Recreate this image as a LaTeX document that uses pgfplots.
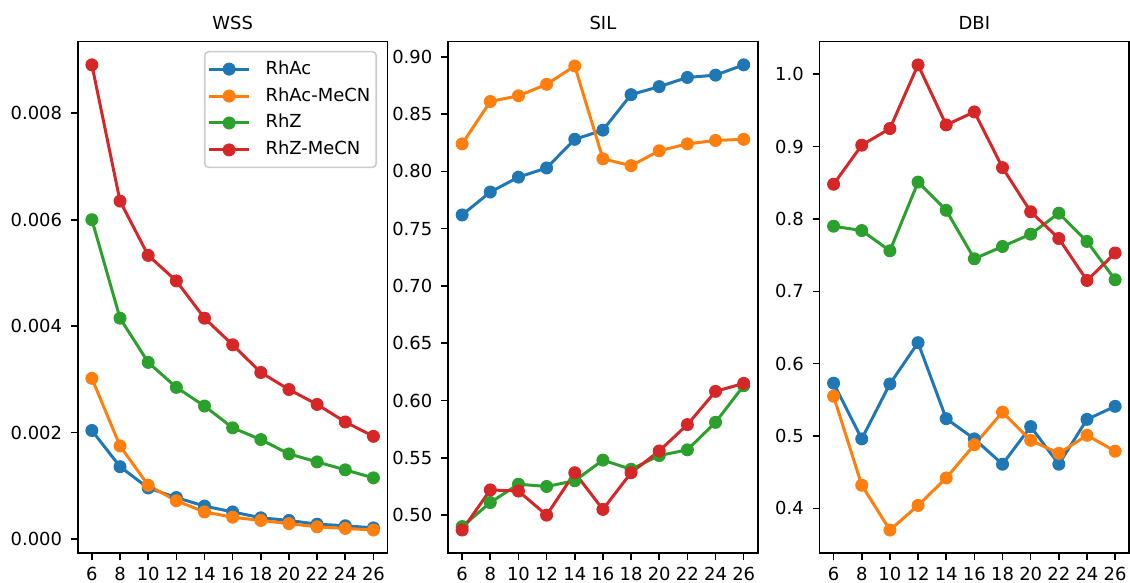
\documentclass[border=0pt]{standalone}
\usepackage{pgfplots}
\pgfplotsset{compat=1.18}
\usepackage{pgfplotstable}
\usepackage{fontspec}
\setmainfont{DejaVu Sans}

\definecolor{cA}{HTML}{1F77B4}
\definecolor{cB}{HTML}{FF7F0E}
\definecolor{cC}{HTML}{2CA02C}
\definecolor{cD}{HTML}{D62728}

% n: cluster count; one column per system
\pgfplotstableread{
n  RhAc    RhAcMeCN RhZ     RhZMeCN
6  0.00204 0.00302  0.00600 0.00891
8  0.00136 0.00175  0.00415 0.00635
10 0.00096 0.00101  0.00332 0.00533
12 0.00078 0.00072  0.00285 0.00485
14 0.00062 0.00051  0.00250 0.00415
16 0.00051 0.00041  0.00209 0.00365
18 0.00040 0.00035  0.00187 0.00313
20 0.00035 0.00029  0.00160 0.00281
22 0.00028 0.00023  0.00145 0.00253
24 0.00025 0.00020  0.00130 0.00220
26 0.00021 0.00017  0.00115 0.00193
}\wss

\pgfplotstableread{
n  RhAc  RhAcMeCN RhZ   RhZMeCN
6  0.762 0.824    0.490 0.487
8  0.782 0.861    0.511 0.522
10 0.795 0.866    0.527 0.521
12 0.803 0.876    0.525 0.500
14 0.828 0.892    0.530 0.537
16 0.836 0.811    0.548 0.505
18 0.867 0.805    0.540 0.537
20 0.874 0.818    0.552 0.556
22 0.882 0.824    0.557 0.579
24 0.884 0.827    0.581 0.608
26 0.893 0.828    0.613 0.615
}\sil

\pgfplotstableread{
n  RhAc  RhAcMeCN RhZ   RhZMeCN
6  0.573 0.555    0.790 0.848
8  0.496 0.432    0.784 0.902
10 0.572 0.370    0.756 0.925
12 0.629 0.404    0.851 1.013
14 0.524 0.442    0.812 0.930
16 0.496 0.488    0.745 0.948
18 0.461 0.533    0.762 0.871
20 0.513 0.494    0.779 0.810
22 0.461 0.476    0.808 0.773
24 0.523 0.501    0.769 0.715
26 0.541 0.479    0.716 0.753
}\dbi

\newcommand\lblfont{\fontsize{9}{10.5}\selectfont}

\pgfplotsset{
  panel/.style={
    scale only axis,
    width=155.25pt, height=256.5pt,
    xmin=5, xmax=27,
    xtick={6,8,...,26},
    tick align=outside,
    xtick pos=left, ytick pos=left,
    major tick length=3.5pt,
    axis line style={line width=0.8pt},
    every tick/.style={black, line width=0.8pt},
    tick label style={font=\lblfont},
    /pgf/number format/assume math mode=true,
    scaled y ticks=false,
    xticklabel style={inner sep=0pt, anchor=north, yshift=-3.5pt},
    yticklabel style={inner sep=0pt, anchor=east, xshift=-4.2pt},
    every axis title shift=0pt,
    title style={font=\lblfont, at={(0.5,1)}, anchor=base, yshift=6.2pt},
    every axis plot/.append style={line width=1.5pt, mark=*, mark size=3pt,
      mark options={line width=0.5pt}},
  },
}

\begin{document}
\begin{tikzpicture}
\begin{axis}[panel, title={WSS},
    ymin=-0.000267, ymax=0.009347,
    ytick={0,0.002,0.004,0.006,0.008},
    yticklabel style={/pgf/number format/.cd, fixed, fixed zerofill, precision=3},
    legend cell align=left,
    legend style={at={(1,1)}, anchor=north east, xshift=-5.25pt, yshift=-4.65pt,
      draw=black!20, line width=0.8pt, rounded corners=2pt, font=\lblfont,
      inner xsep=1.5pt, inner ysep=2pt, row sep=0pt, column sep=6pt,
      nodes={text height=6.8pt, text depth=1.8pt, inner ysep=2.45pt, inner xsep=1.5pt}},
    legend image code/.code={%
      \draw[mark repeat=2, mark phase=2, #1] plot coordinates {(0pt,0pt) (10pt,0pt) (20pt,0pt)};},
  ]
  \addplot[cA] table[x=n, y=RhAc] {\wss};
  \addplot[cB] table[x=n, y=RhAcMeCN] {\wss};
  \addplot[cC] table[x=n, y=RhZ] {\wss};
  \addplot[cD] table[x=n, y=RhZMeCN] {\wss};
  \legend{RhAc, RhAc-MeCN, RhZ, RhZ-MeCN}
\end{axis}

\begin{axis}[panel, title={SIL}, at={(185.6pt,0pt)},
    ymin=0.4667, ymax=0.9133,
    ytick={0.50,0.55,...,0.90},
    yticklabel style={/pgf/number format/.cd, fixed, fixed zerofill, precision=2},
  ]
  \addplot[cA] table[x=n, y=RhAc] {\sil};
  \addplot[cB] table[x=n, y=RhAcMeCN] {\sil};
  \addplot[cC] table[x=n, y=RhZ] {\sil};
  \addplot[cD] table[x=n, y=RhZMeCN] {\sil};
\end{axis}

\begin{axis}[panel, title={DBI}, at={(371.8pt,0pt)},
    ymin=0.3379, ymax=1.0452,
    ytick={0.4,0.5,...,1.0},
    yticklabel style={/pgf/number format/.cd, fixed, fixed zerofill, precision=1},
  ]
  \addplot[cA] table[x=n, y=RhAc] {\dbi};
  \addplot[cB] table[x=n, y=RhAcMeCN] {\dbi};
  \addplot[cC] table[x=n, y=RhZ] {\dbi};
  \addplot[cD] table[x=n, y=RhZMeCN] {\dbi};
\end{axis}

\path[use as bounding box] (-39pt,-14.65pt) rectangle (526pt,277.35pt);
\end{tikzpicture}
\end{document}
